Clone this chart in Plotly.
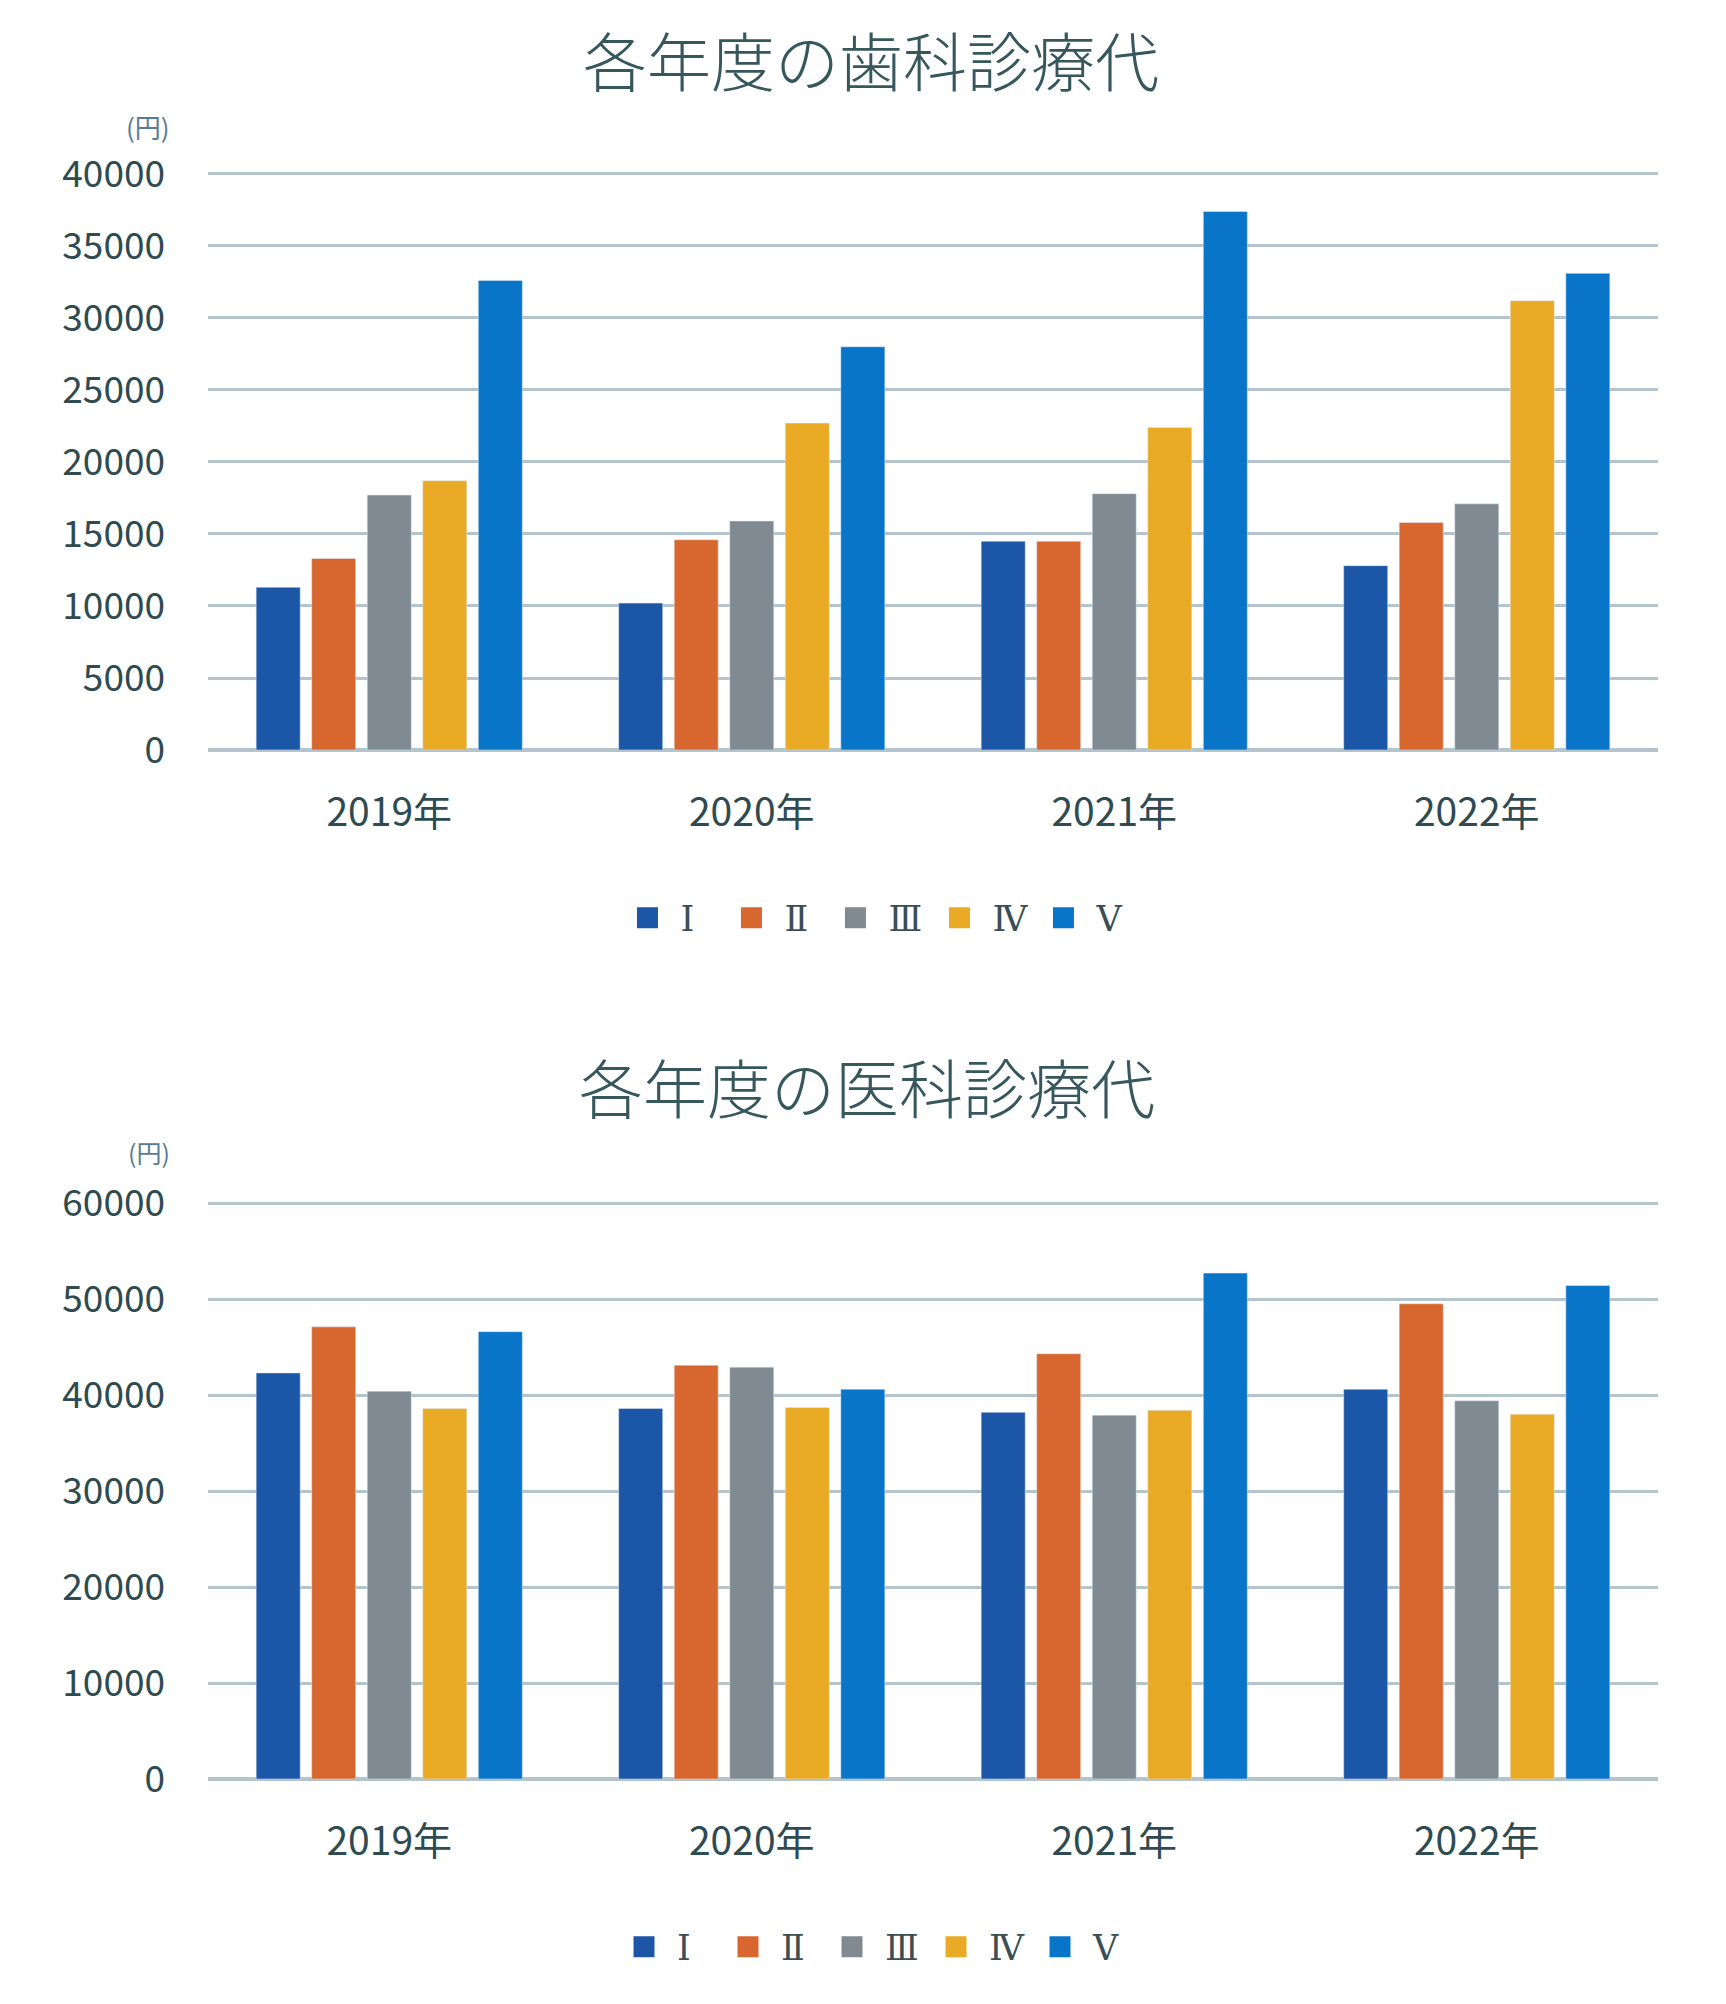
import plotly.graph_objects as go

years = ["2019年", "2020年", "2021年", "2022年"]
series_names = ["Ⅰ", "Ⅱ", "Ⅲ", "Ⅳ", "Ⅴ"]
colors = ["#1c56a6", "#d8672f", "#7f8a92", "#e9aa25", "#0975c8"]

dental_I = [11300, 10200, 14500, 12800]
dental_II = [13300, 14600, 14500, 15800]
dental_III = [17700, 15900, 17800, 17100]
dental_IV = [18700, 22700, 22400, 31200]
dental_V = [32600, 28000, 37400, 33100]

medical_I = [42300, 38600, 38200, 40600]
medical_II = [47100, 43100, 44300, 49500]
medical_III = [40400, 42900, 37900, 39400]
medical_IV = [38600, 38700, 38400, 38000]
medical_V = [46600, 40600, 52700, 51400]

dental = [dental_I, dental_II, dental_III, dental_IV, dental_V]
medical = [medical_I, medical_II, medical_III, medical_IV, medical_V]

title1 = "各年度の歯科診療代"
title2 = "各年度の医科診療代"
unit = "(円)"

FONT = "Noto Sans CJK JP"
LEGEND_FONT = "DejaVu Serif, Noto Sans CJK JP"
TEXT = "#2f4b52"
GRID = "#b3c4cd"

fig = go.Figure()

for i, name in enumerate(series_names):
    fig.add_trace(go.Bar(x=years, y=dental[i], name=name, marker_color=colors[i],
                         xaxis="x", yaxis="y", showlegend=False))
    fig.add_trace(go.Scatter(x=[None], y=[None], name=name, mode="markers",
                             marker=dict(symbol="square", size=16, color=colors[i],
                                         line=dict(width=5, color=colors[i])),
                             xaxis="x", yaxis="y", legend="legend"))
for i, name in enumerate(series_names):
    fig.add_trace(go.Bar(x=years, y=medical[i], name=name, marker_color=colors[i],
                         xaxis="x2", yaxis="y2", showlegend=False))
    fig.add_trace(go.Scatter(x=[None], y=[None], name=name, mode="markers",
                             marker=dict(symbol="square", size=16, color=colors[i],
                                         line=dict(width=5, color=colors[i])),
                             xaxis="x2", yaxis="y2", legend="legend2"))

W, H = 1726, 2004
xdom = [200 / W, 1650 / W]

yaxis_common = dict(
    showgrid=True, gridcolor=GRID, gridwidth=3,
    zeroline=True, zerolinecolor=GRID, zerolinewidth=4,
    showline=False, ticks="", tickformat="d",
    tickfont=dict(family=FONT, size=37, color=TEXT),
    ticklabelstandoff=42,
)
xaxis_common = dict(
    type="category", showgrid=False, showline=False, ticks="", zeroline=False,
    tickfont=dict(family=FONT, size=39, color=TEXT),
    ticklabelstandoff=36,
)

legend_common = dict(
    orientation="h", xanchor="center", yanchor="middle",
    font=dict(family=LEGEND_FONT, size=35, color="#3a4f55"),
    bgcolor="rgba(0,0,0,0)", itemwidth=56,
    entrywidth=33, entrywidthmode="pixels",
)

fig.update_layout(
    width=W, height=H,
    margin=dict(l=0, r=0, t=0, b=0, autoexpand=False),
    paper_bgcolor="white", plot_bgcolor="white",
    barmode="group", bargap=0.234, bargroupgap=0.207,
    xaxis=dict(domain=xdom, anchor="y", **xaxis_common),
    yaxis=dict(domain=[1 - 742 / H, 1 - 163.8 / H], anchor="x",
               range=[0, 40150], dtick=5000, **yaxis_common),
    xaxis2=dict(domain=xdom, anchor="y2", **xaxis_common),
    yaxis2=dict(domain=[1 - 1771 / H, 1 - 1193.1 / H], anchor="x2",
                range=[0, 60200], dtick=10000, **yaxis_common),
    legend=dict(x=0.502, y=1 - 910 / H, **legend_common),
    legend2=dict(x=0.500, y=1 - 1939 / H, **legend_common),
    annotations=[
        dict(text=title1, x=863 / W, y=1.0, xref="paper", yref="paper",
             showarrow=False, xanchor="center", yanchor="top", yshift=-2,
             font=dict(family=FONT, size=64, color="#36575c", weight=300)),
        dict(text=title2, x=859 / W, y=1 - 1077 / H, xref="paper", yref="paper",
             showarrow=False, xanchor="center", yanchor="middle",
             font=dict(family=FONT, size=64, color="#36575c", weight=300)),
        dict(text=unit, x=164 / W, y=1 - 118 / H, xref="paper", yref="paper",
             showarrow=False, xanchor="right", yanchor="middle",
             font=dict(family=FONT, size=26, color="#5a7a94")),
        dict(text=unit, x=164 / W, y=1 - 1144 / H, xref="paper", yref="paper",
             showarrow=False, xanchor="right", yanchor="middle",
             font=dict(family=FONT, size=25, color="#5a7a94")),
    ],
)

fig.write_html("out.html")
